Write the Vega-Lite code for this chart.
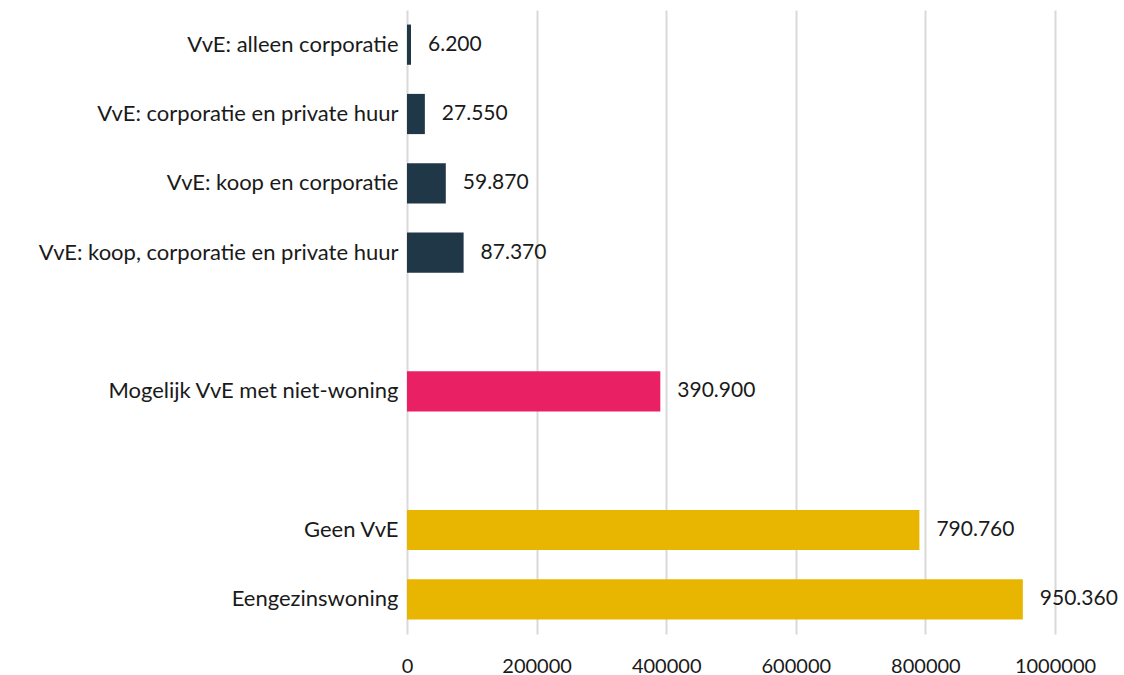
{
  "$schema": "https://vega.github.io/schema/vega-lite/v6.json",
  "width": 648,
  "height": 624,
  "autosize": {"type": "none"},
  "padding": {"left": 407, "top": 10, "right": 69, "bottom": 41},
  "background": "white",
  "config": {
    "view": {"stroke": null},
    "font": "Lato",
    "locale": {"number": {"decimal": ",", "thousands": ".", "grouping": [3], "currency": ["€", ""]}}
  },
  "data": {
    "values": [
      {"categorie": "VvE: alleen corporatie", "aantal": 6200, "groep": "VvE"},
      {"categorie": "VvE: corporatie en private huur", "aantal": 27550, "groep": "VvE"},
      {"categorie": "VvE: koop en corporatie", "aantal": 59870, "groep": "VvE"},
      {"categorie": "VvE: koop, corporatie en private huur", "aantal": 87370, "groep": "VvE"},
      {"categorie": "Mogelijk VvE met niet-woning", "aantal": 390900, "groep": "Mogelijk"},
      {"categorie": "Geen VvE", "aantal": 790760, "groep": "Geen"},
      {"categorie": "Eengezinswoning", "aantal": 950360, "groep": "Geen"}
    ]
  },
  "encoding": {
    "y": {
      "field": "categorie",
      "type": "nominal",
      "sort": null,
      "scale": {
        "domain": ["VvE: alleen corporatie", "VvE: corporatie en private huur", "VvE: koop en corporatie", "VvE: koop, corporatie en private huur", " ", "Mogelijk VvE met niet-woning", "  ", "Geen VvE", "Eengezinswoning"],
        "paddingInner": 0.42,
        "paddingOuter": 0.21
      },
      "axis": {
        "title": null,
        "ticks": false,
        "domain": false,
        "labelPadding": 9,
        "labelFontSize": 22,
        "labelColor": "#1a1a1a",
        "labelFont": "Lato",
        "labelLimit": 500
      }
    },
    "x": {
      "field": "aantal",
      "type": "quantitative",
      "scale": {"domain": [0, 1000000], "nice": false},
      "axis": {
        "title": null,
        "values": [0, 200000, 400000, 600000, 800000, 1000000],
        "format": "d",
        "ticks": false,
        "domain": false,
        "grid": true,
        "gridColor": "#d9d9d9",
        "gridWidth": 2,
        "labelPadding": 22,
        "labelFontSize": 20,
        "labelColor": "#1a1a1a",
        "labelFont": "Lato",
        "labelFlush": false
      }
    }
  },
  "layer": [
    {
      "mark": {"type": "bar"},
      "encoding": {
        "color": {
          "field": "groep",
          "type": "nominal",
          "scale": {"domain": ["VvE", "Mogelijk", "Geen"], "range": ["#203747", "#e92063", "#e8b600"]},
          "legend": null
        }
      }
    },
    {
      "mark": {"type": "text", "align": "left", "baseline": "middle", "dx": 17, "fontSize": 21, "font": "Lato", "color": "#1a1a1a"},
      "encoding": {
        "text": {"field": "aantal", "type": "quantitative", "format": ",d"}
      }
    }
  ]
}
